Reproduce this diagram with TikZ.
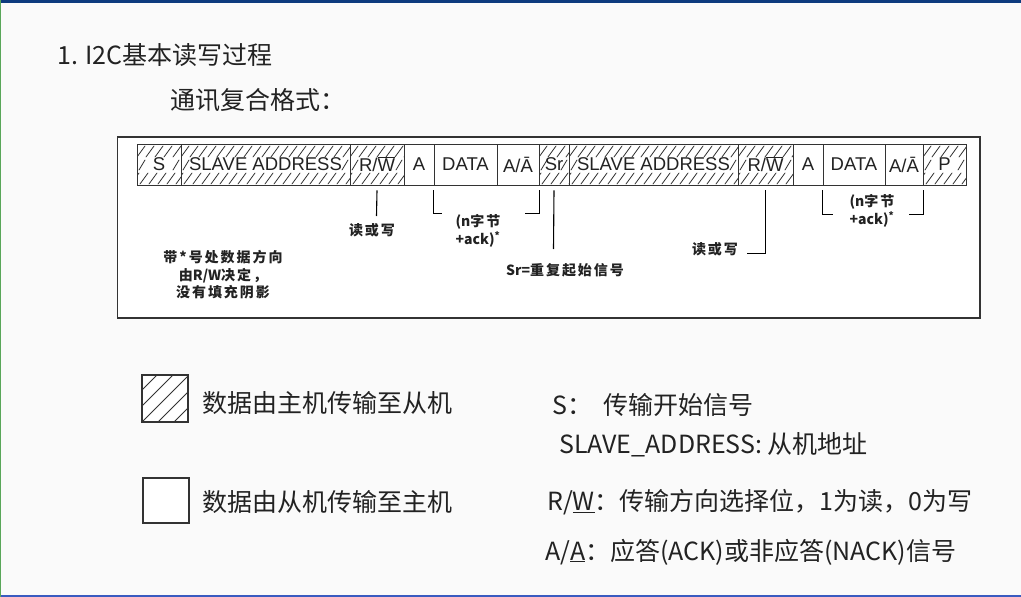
\documentclass[tikz,border=0pt]{standalone}
\usepackage{fontspec}
\setmainfont{Noto Sans CJK SC}
\newfontfamily\pktfont{Liberation Sans}
\usetikzlibrary{calc}
\definecolor{pagebg}{HTML}{FAFAFA}
\definecolor{topbar}{HTML}{0D3B7E}
\definecolor{botbar}{HTML}{3A5BC0}
\definecolor{ink}{HTML}{222222}
\definecolor{linegray}{HTML}{333333}
\newcommand\ovl[1]{$\overline{\mbox{#1}}$}
\newcommand\spaced[1]{{\addfontfeature{LetterSpace=14}#1}}
% slanted hatch strokes inside a packet cell spanning x = #1 .. #2
\newcommand\hatchcell[2]{%
  \begin{scope}
    \clip (#1,144) rectangle (#2,185);
    \foreach \dx in {-9,0,...,180}{
      \draw[hatch] ({#1+\dx},157) -- ({#1+\dx+8},146);
      \draw[hatch] ({#1+\dx+3},184) -- ({#1+\dx+11},173);
    }
    \draw[hatch] ({#1+2},170) -- ({#1+8},160);
    \draw[hatch] ({#2-8},170) -- ({#2-2},160);
  \end{scope}}
\begin{document}
\begin{tikzpicture}[x=1pt,y=-1pt,
  hatch/.style={draw=linegray,line width=0.8pt,line cap=round},
  cell/.style={draw=linegray,line width=0.9pt,minimum height=41,inner sep=0pt,
    font=\pktfont\fontsize{18.5}{18.5}\selectfont,text=ink},
  lead/.style={draw=black,line width=1.1pt},
  note/.style={font=\bfseries\fontsize{14}{17.5}\selectfont,
    text=ink,inner sep=0pt,align=center},
  body/.style={font=\fontsize{25}{30}\selectfont,text=ink,inner sep=0pt,anchor=west},
  legendbox/.style={draw=linegray,line width=1.6pt,fill=white}]
\useasboundingbox (0,0) rectangle (1021,597);
% page
\fill[pagebg] (0,0) rectangle (1021,597);
\fill[topbar] (0,0) rectangle (1021,2.5);
\fill[botbar] (0,594.5) rectangle (1021,597);
\draw[gray!70!green,line width=0.8pt] (0.4,0) -- (0.4,597);

% headings
\node[body] (title) at (57,55) {1. I2C基本读写过程};
\node[body] (sub) at (170,100) {通讯复合格式：};

% outer frame of the frame format
\node[draw=linegray,line width=1.3pt,fill=white,minimum width=862.5,minimum height=181,inner sep=0pt]
  (frame) at (548.75,227.5) {};

% hatching for master-driven fields
\hatchcell{137}{181}
\hatchcell{181}{350}
\hatchcell{350}{404}
\hatchcell{539}{569}
\hatchcell{569}{738}
\hatchcell{738}{793}
\hatchcell{923}{966}

% packet fields
\node[cell,minimum width=44]  (s)   at (159,164.5)   {S};
\node[cell,minimum width=169] (sa1) at (265.5,164.5) {SLAVE ADDRESS};
\node[cell,minimum width=54]  (rw1) at (377,164.5)   {R/\ovl{W}};
\node[cell,minimum width=30]  (a1)  at (419,164.5)   {A};
\node[cell,minimum width=63]  (d1)  at (465.5,164.5) {DATA};
\node[cell,minimum width=42]  (aa1) at (518,164.5)   {A/Ā};
\node[cell,minimum width=30]  (sr)  at (554,164.5)   {Sr};
\node[cell,minimum width=169] (sa2) at (653.5,164.5) {SLAVE ADDRESS};
\node[cell,minimum width=55]  (rw2) at (765.5,164.5) {R/\ovl{W}};
\node[cell,minimum width=30]  (a2)  at (808,164.5)   {A};
\node[cell,minimum width=62]  (d2)  at (854,164.5)   {DATA};
\node[cell,minimum width=38]  (aa2) at (904,164.5)   {A/Ā};
\node[cell,minimum width=43]  (p)   at (944.5,164.5) {P};

% annotations under the fields
\node[note] (rdwr1) at (372,230) {\spaced{读或写}};
\coordinate (rw1end) at (376.5,216);
\draw[lead] ([yshift=-5pt]rw1.south) -- (rw1end);

\node[note] (rep1) at (478,231) {(n\spaced{字节}\\+ack)\textsuperscript{*}};
\draw[lead] ([yshift=-5pt]d1.south west) -- ++(0,23) -- ++(8,0);
\draw[lead] ([yshift=-5pt]aa1.south east) -- ++(0,23) -- ++(-14,0);

\node[note] (srlbl) at (565,270) {Sr=\spaced{重复起始信号}};
\coordinate (srend) at (553.5,249);
\draw[lead] ([yshift=-5pt]sr.south) -- (srend);

\node[note] (rdwr2) at (715,249) {\spaced{读或写}};
\draw[lead] ([yshift=-5pt]rw2.south) -- ++(0,63) -- ++(-19,0);

\node[note] (rep2) at (872,211) {(n\spaced{字节}\\+ack)\textsuperscript{*}};
\draw[lead] ([yshift=-5pt]d2.south west) -- ++(0,24) -- ++(10,0);
\draw[lead] ([yshift=-5pt]aa2.south east) -- ++(0,24) -- ++(-14,0);

\node[note] (dirnote) at (223,275) {\spaced{带*号处数据方向}\\由R/W\spaced{决定，}\\\spaced{没有填充阴影}};

% legend
\node[legendbox,minimum width=46,minimum height=47,inner sep=0pt] (lm) at (165,398.5) {};
\begin{scope}
  \clip (142,375) rectangle (188,422);
  \foreach \k in {-32,-16,0,16,32}
    \draw[hatch,line width=0.8pt] ({142+\k},422) -- ({189+\k},375);
\end{scope}
\node[legendbox,minimum width=46,minimum height=45,inner sep=0pt] (ls) at (166,500.5) {};
\node[body] (lmt) at (202,403) {数据由主机传输至从机};
\node[body] (lst) at (202,502) {数据由从机传输至主机};

\node[body] (ks)  at (552,405) {S：\ \ 传输开始信号};
\node[body] (ksa) at (559,445) {SLAVE\_ADDRESS: 从机地址};
\node[body] (krw) at (547,502) {R/\underline{W}：传输方向选择位，1为读，0为写};
\node[body] (kaa) at (545,552) {A/\underline{A}：应答(ACK)或非应答(NACK)信号};
\end{tikzpicture}
\end{document}
